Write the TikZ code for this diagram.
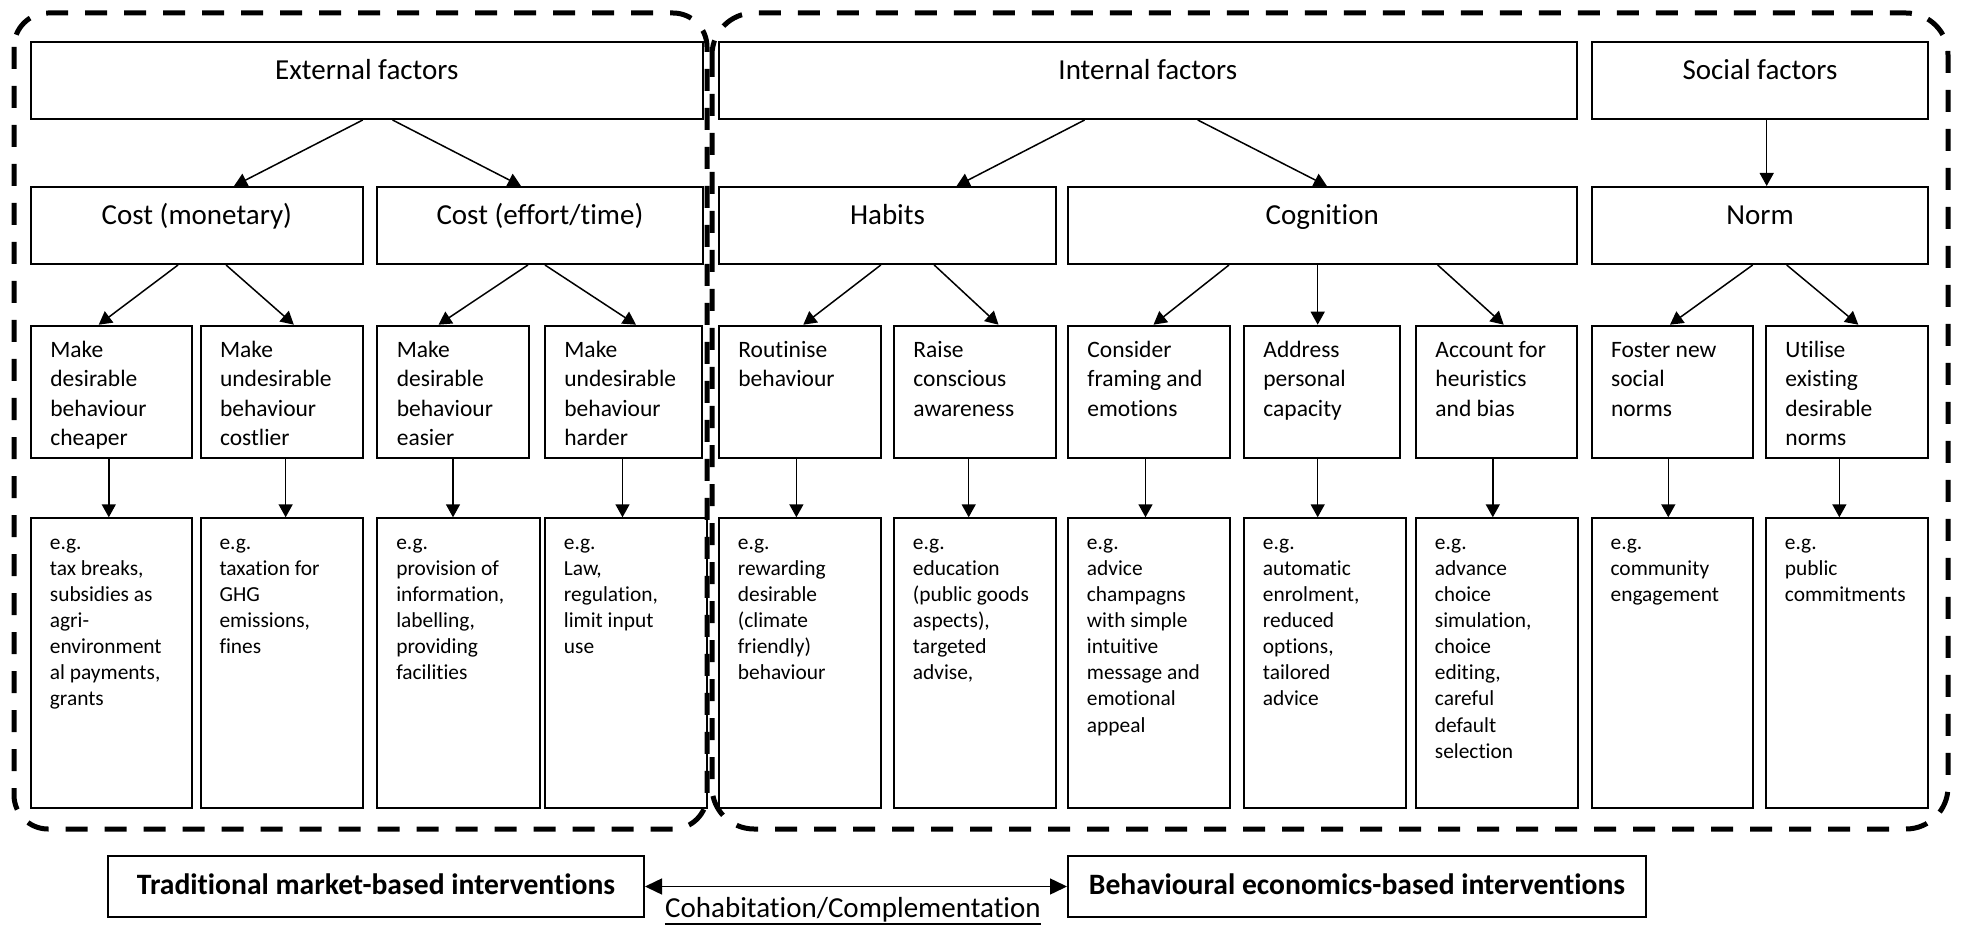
\documentclass[tikz,border=0pt]{standalone}
\usepackage{fontspec}
\setmainfont{Carlito}[Ligatures={NoCommon}]
\usetikzlibrary{arrows.meta,fit,calc}
\newcommand{\boxlines}[1]{\parbox[t]{150pt}{#1}}
\begin{document}
\begin{tikzpicture}[x=0.5pt,y=-0.5pt,
  box/.style={draw, line width=1pt, inner sep=0pt},
  hdr/.style={font=\fontsize{14.5}{17.5}\selectfont, anchor=base, inner sep=0pt},
  bhdr/.style={font=\fontsize{14.8}{17.5}\selectfont\bfseries, anchor=base, inner sep=0pt},
  lvl/.style={font=\fontsize{11.75}{14.6}\selectfont, anchor=base west, inner sep=0pt},
  egt/.style={font=\fontsize{10.7}{13.05}\selectfont, anchor=base west, inner sep=0pt},
  arr/.style={line width=0.75pt, -{Triangle[length=6.5pt,width=7pt]}},
  dbl/.style={line width=0.75pt, {Triangle[length=8.5pt,width=8pt]}-{Triangle[length=8.5pt,width=8pt]}},
  grp/.style={line width=2.5pt, dash pattern=on 11pt off 8.5pt},
]
\useasboundingbox (0,0) rectangle (1961,925);

% group frames
\draw[grp, rounded corners=17pt] (14,13) rectangle (707,829);
\draw[grp, rounded corners=21pt] (712,13) rectangle (1948,829);

% row 1
\node[box, fit={(31,42) (702.5,119)}] (ext) {};
\node[box, fit={(719,42) (1576.6,119)}] (int) {};
\node[box, fit={(1591.7,42) (1928.3,119)}] (soc) {};
\node[hdr] (extT) at ($(ext.north)+(0,39)$) {External factors};
\node[hdr] (intT) at ($(int.north)+(0,39)$) {Internal factors};
\node[hdr] (socT) at ($(soc.north)+(0,39)$) {Social factors};

% row 2
\node[box, fit={(31,187) (362.7,264)}] (cm) {};
\node[box, fit={(377.4,187) (702.5,264)}] (ce) {};
\node[box, fit={(719,187) (1056,264)}] (hab) {};
\node[box, fit={(1068,187) (1576.6,264)}] (cog) {};
\node[box, fit={(1591.7,187) (1928.3,264)}] (norm) {};
\node[hdr] (cmT) at ($(cm.north)+(0,39)$) {Cost (monetary)};
\node[hdr] (ceT) at ($(ce.north)+(0,39)$) {Cost (effort/time)};
\node[hdr] (habT) at ($(hab.north)+(0,39)$) {Habits};
\node[hdr] (cogT) at ($(cog.north)+(0,39)$) {Cognition};
\node[hdr] (normT) at ($(norm.north)+(0,39)$) {Norm};

% row 3
\node[box, fit={(31,325.7) (192,458.3)}] (m1) {};
\node[box, fit={(200.6,325.7) (362.7,458.3)}] (m2) {};
\node[box, fit={(377.4,325.7) (529.4,458.3)}] (m3) {};
\node[box, fit={(545,325.7) (702,458.3)}] (m4) {};
\node[box, fit={(719,325.7) (881.4,458.3)}] (r1) {};
\node[box, fit={(894,325.7) (1056,458.3)}] (r2) {};
\node[box, fit={(1068,325.7) (1230,458.3)}] (c1) {};
\node[box, fit={(1244,325.7) (1400,458.3)}] (c2) {};
\node[box, fit={(1416,325.7) (1576.6,458.3)}] (c3) {};
\node[box, fit={(1591.7,325.7) (1753.3,458.3)}] (n1) {};
\node[box, fit={(1766,325.7) (1928.3,458.3)}] (n2) {};
\node[lvl] (m1T) at ($(m1.north west)+(20,33)$) {\boxlines{Make\\desirable\\behaviour\\cheaper}};
\node[lvl] (m2T) at ($(m2.north west)+(20,33)$) {\boxlines{Make\\undesirable\\behaviour\\costlier}};
\node[lvl] (m3T) at ($(m3.north west)+(20,33)$) {\boxlines{Make\\desirable\\behaviour\\easier}};
\node[lvl] (m4T) at ($(m4.north west)+(20,33)$) {\boxlines{Make\\undesirable\\behaviour\\harder}};
\node[lvl] (r1T) at ($(r1.north west)+(20,33)$) {\boxlines{Routinise\\behaviour}};
\node[lvl] (r2T) at ($(r2.north west)+(20,33)$) {\boxlines{Raise\\conscious\\awareness}};
\node[lvl] (c1T) at ($(c1.north west)+(20,33)$) {\boxlines{Consider\\framing and\\emotions}};
\node[lvl] (c2T) at ($(c2.north west)+(20,33)$) {\boxlines{Address\\personal\\capacity}};
\node[lvl] (c3T) at ($(c3.north west)+(20,33)$) {\boxlines{Account for\\heuristics\\and bias}};
\node[lvl] (n1T) at ($(n1.north west)+(20,33)$) {\boxlines{Foster new\\social\\norms}};
\node[lvl] (n2T) at ($(n2.north west)+(20,33)$) {\boxlines{Utilise\\existing\\desirable\\norms}};

% row 4
\node[box, fit={(31,518.3) (192,808.3)}] (e1) {};
\node[box, fit={(200.6,518.3) (362.7,808.3)}] (e2) {};
\node[box, fit={(377.4,518.3) (539.5,808.3)}] (e3) {};
\node[box, fit={(545,518.3) (707,808.3)}] (e4) {};
\node[box, fit={(719,518.3) (881.4,808.3)}] (e5) {};
\node[box, fit={(894,518.3) (1056,808.3)}] (e6) {};
\node[box, fit={(1068,518.3) (1230,808.3)}] (e7) {};
\node[box, fit={(1244,518.3) (1406,808.3)}] (e8) {};
\node[box, fit={(1416,518.3) (1578,808.3)}] (e9) {};
\node[box, fit={(1591.7,518.3) (1753.3,808.3)}] (e10) {};
\node[box, fit={(1766,518.3) (1928.3,808.3)}] (e11) {};
\node[egt] (e1T) at ($(e1.north west)+(19.5,32)$) {\boxlines{e.g.\\tax breaks,\\subsidies as\\agri-\\environment\\al payments,\\grants}};
\node[egt] (e2T) at ($(e2.north west)+(19.5,32)$) {\boxlines{e.g.\\taxation for\\GHG\\emissions,\\fines}};
\node[egt] (e3T) at ($(e3.north west)+(19.5,32)$) {\boxlines{e.g.\\provision of\\information,\\labelling,\\providing\\facilities}};
\node[egt] (e4T) at ($(e4.north west)+(19.5,32)$) {\boxlines{e.g.\\Law,\\regulation,\\limit input\\use}};
\node[egt] (e5T) at ($(e5.north west)+(19.5,32)$) {\boxlines{e.g.\\rewarding\\desirable\\(climate\\friendly)\\behaviour}};
\node[egt] (e6T) at ($(e6.north west)+(19.5,32)$) {\boxlines{e.g.\\education\\(public goods\\aspects),\\targeted\\advise,}};
\node[egt] (e7T) at ($(e7.north west)+(19.5,32)$) {\boxlines{e.g.\\advice\\champagns\\with simple\\intuitive\\message and\\emotional\\appeal}};
\node[egt] (e8T) at ($(e8.north west)+(19.5,32)$) {\boxlines{e.g.\\automatic\\enrolment,\\reduced\\options,\\tailored\\advice}};
\node[egt] (e9T) at ($(e9.north west)+(19.5,32)$) {\boxlines{e.g.\\advance\\choice\\simulation,\\choice\\editing,\\careful\\default\\selection}};
\node[egt] (e10T) at ($(e10.north west)+(19.5,32)$) {\boxlines{e.g.\\community\\engagement}};
\node[egt] (e11T) at ($(e11.north west)+(19.5,32)$) {\boxlines{e.g.\\public\\commitments}};

% arrows row1 -> row2
\draw[arr] ([xshift=-2pt]ext.south) -- ([xshift=18.6pt]cm.north);
\draw[arr] ([xshift=12.9pt]ext.south) -- ([xshift=-9.5pt]ce.north);
\draw[arr] ([xshift=-31.6pt]int.south) -- ([xshift=34.55pt]hab.north);
\draw[arr] ([xshift=24.95pt]int.south) -- ([xshift=2.3pt]cog.north);
\draw[arr] ([xshift=3.35pt]soc.south) -- ([xshift=3.35pt]soc.south |- norm.north);

% arrows row2 -> row3
\draw[arr] ([xshift=-9.4pt]cm.south) -- ([xshift=-6.4pt]m1.north);
\draw[arr] ([xshift=14.6pt]cm.south) -- ([xshift=6.1pt]m2.north);
\draw[arr] ([xshift=-6pt]ce.south) -- ([xshift=-7.45pt]m3.north);
\draw[arr] ([xshift=2.5pt]ce.south) -- ([xshift=6.25pt]m4.north);
\draw[arr] ([xshift=-3.35pt]hab.south) -- ([xshift=1.55pt]r1.north);
\draw[arr] ([xshift=23.35pt]hab.south) -- ([xshift=11.75pt]r2.north);
\draw[arr] ([xshift=-46.65pt]cog.south) -- ([xshift=2.25pt]c1.north);
\draw[arr] ([xshift=-2.3pt]cog.south) -- ([xshift=-2.3pt]cog.south |- c2.north);
\draw[arr] ([xshift=57.7pt]cog.south) -- ([xshift=3.7pt]c3.north);
\draw[arr] ([xshift=-3.65pt]norm.south) -- ([xshift=-1.25pt]n1.north);
\draw[arr] ([xshift=13.35pt]norm.south) -- ([xshift=5.6pt]n2.north);

% arrows row3 -> row4
\foreach \a/\b/\s in {m1/e1/-1.35, m2/e2/2, m3/e3/-0.2, m4/e4/-0.5, r1/e5/-1.9, r2/e6/-3.15, c1/e7/-1.75, c2/e8/-2.15, c3/e9/-1.75, n1/e10/-2.1, n2/e11/-3.9}
  \draw[arr] ([xshift=\s pt]\a.south) -- ([xshift=\s pt]\a.south |- \b.north);

% bottom
\node[box, fit={(108,856) (644,917)}] (trad) {};
\node[box, fit={(1068,856) (1646,917)}] (beh) {};
\node[bhdr] (tradT) at ($(trad.north)+(0,39)$) {Traditional market-based interventions};
\node[bhdr] (behT) at ($(beh.north)+(0,39)$) {Behavioural economics-based interventions};
\draw[dbl] (trad.east) -- (beh.west);
\node[hdr] (coh) at (853,917) {Cohabitation/Complementation};
\draw[line width=0.8pt] ([yshift=-3.5pt]coh.base west) -- ([yshift=-3.5pt]coh.base east);
\end{tikzpicture}
\end{document}
